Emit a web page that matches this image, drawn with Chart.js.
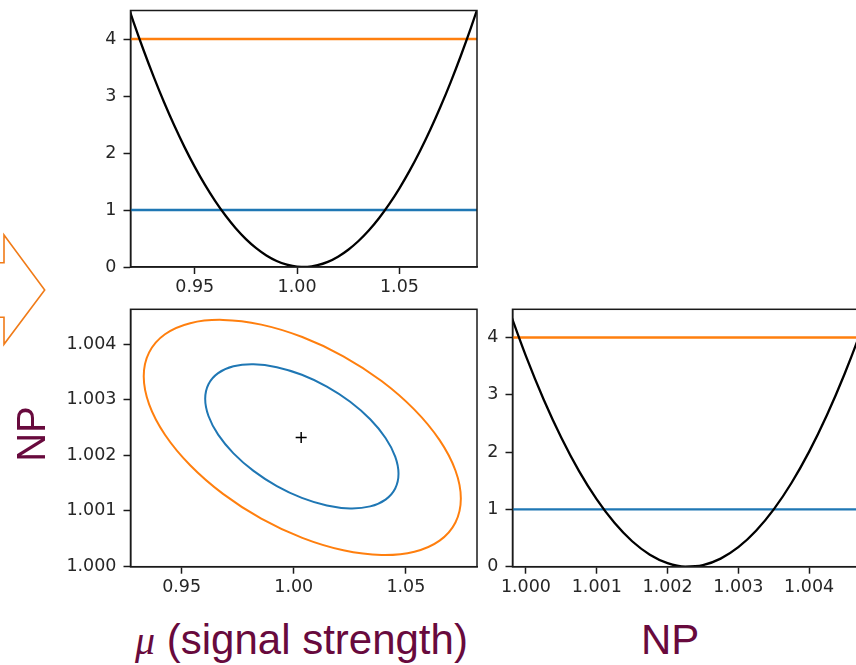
<!DOCTYPE html>
<html><head><meta charset="utf-8">
<script src="https://cdn.jsdelivr.net/npm/chart.js@4/dist/chart.umd.min.js"></script>
<style>
html,body{margin:0;padding:0;background:#fff;width:856px;height:665px;overflow:hidden;position:relative}
canvas{position:absolute}
.lbl{position:absolute;color:#680a3d;font-family:"Liberation Sans",Arial,sans-serif;font-size:42px;line-height:42px;white-space:nowrap}
.mu{font-family:"Liberation Serif","Times New Roman",serif;font-style:italic;font-size:40px}
</style></head><body>
<svg style="position:absolute;left:0;top:0" width="60" height="360">
  <polyline points="-3,262.7 4,262.7 4,235 44.7,290 4,344.3 4,317.3 -3,317.3" fill="none" stroke="#f07b18" stroke-width="1.6"/>
</svg>
<canvas id="cA" width="490" height="300" style="left:0;top:0"></canvas>
<canvas id="cB" width="490" height="310" style="left:0;top:290px"></canvas>
<canvas id="cC" width="390" height="310" style="left:480px;top:290px"></canvas>
<div class="lbl" style="left:135px;top:619px"><span class="mu">μ</span> (signal strength)</div>
<div class="lbl" style="left:641px;top:619px">NP</div>
<div class="lbl" style="left:1px;top:414px;width:60px;height:40px;font-size:40px;line-height:40px;text-align:center;transform:rotate(-90deg)">NP</div>
<script>
// ---- data ----
const muX = [0.915,0.92,0.925,0.93,0.935,0.94,0.945,0.95,0.955,0.96,0.965,0.97,0.975,0.98,0.985,0.99,0.995,1.0,1.005,1.01,1.015,1.02,1.025,1.03,1.035,1.04,1.045,1.05,1.055,1.06,1.065,1.07,1.075,1.08,1.085,1.09];
const muDchi2 = [4.84,4.306,3.803,3.331,2.89,2.481,2.103,1.756,1.44,1.156,0.903,0.681,0.49,0.331,0.203,0.106,0.04,0.006,0.003,0.031,0.09,0.181,0.303,0.456,0.64,0.856,1.103,1.381,1.69,2.031,2.403,2.806,3.24,3.706,4.203,4.731];
const npX = [0.99975,1.0,1.00025,1.0005,1.00075,1.001,1.00125,1.0015,1.00175,1.002,1.00225,1.0025,1.00275,1.003,1.00325,1.0035,1.00375,1.004,1.00425,1.0045,1.00475,1.005];
const npDchi2 = [4.516,3.674,2.918,2.25,1.668,1.174,0.766,0.444,0.21,0.063,0.002,0.028,0.141,0.34,0.627,1.0,1.46,2.007,2.641,3.361,4.168,5.063];
const level1 = 1;   // blue line
const level2 = 4;   // orange line
const muSpan = [0.90, 1.10];
const npSpan = [0.999, 1.006];
// closed contours (first and last points repeat so the loop closes smoothly)
const ell68Mu = [1.04523,1.0467,1.04523,1.04092,1.03408,1.02515,1.01475,1.0036,0.99245,0.98205,0.97312,0.96628,0.96197,0.9605,0.96197,0.96628,0.97312,0.98205,0.99245,1.0036,1.01475,1.02515,1.03408,1.04092,1.04523,1.0467,1.04523];
const ell68Np = [1.001400,1.001664,1.001974,1.002310,1.002647,1.002963,1.003237,1.003450,1.003587,1.003640,1.003603,1.003480,1.003280,1.003016,1.002706,1.002370,1.002033,1.001717,1.001443,1.001230,1.001093,1.001040,1.001077,1.001200,1.001400,1.001664,1.001974];
const ell95Mu = [1.07209,1.0745,1.07209,1.06503,1.05379,1.03915,1.0221,1.0038,0.9855,0.96845,0.95381,0.94257,0.93551,0.9331,0.93551,0.94257,0.95381,0.96845,0.9855,1.0038,1.0221,1.03915,1.05379,1.06503,1.07209,1.0745,1.07209];
const ell95Np = [1.000787,1.001218,1.001724,1.002271,1.002821,1.003337,1.003783,1.004130,1.004354,1.004439,1.004380,1.004180,1.003853,1.003422,1.002916,1.002369,1.001819,1.001303,1.000857,1.000510,1.000286,1.000201,1.000260,1.000460,1.000787,1.001218,1.001724];
const bestMu = [1.0033];
const bestNp = [1.00232];
const muTicks = [0.95, 1.00, 1.05];
const npTicks = [1.000, 1.001, 1.002, 1.003, 1.004];
const dchi2Ticks = [0, 1, 2, 3, 4];

const BLUE = '#1f77b4', ORANGE = '#ff7f0e', INK = '#1a1a1a';
Chart.defaults.font.family = 'DejaVu Sans';

function pts(xs, ys){ return xs.map((x,i)=>({x:x, y:ys[i]})); }
function axis(min, max, ticks, dec, isX, size){
  return {
    type:'linear', min:min, max:max,
    afterBuildTicks: function(s){ s.ticks = ticks.map(v=>({value:v})); },
    afterFit: function(s){
      if (isX) { s.height = size; } else { s.width = size; }
      s.paddingTop = 0; s.paddingBottom = 0; s.paddingLeft = 0; s.paddingRight = 0;
    },
    ticks: { callback: v => Number(v).toFixed(dec), color: '#262626', font:{size:17.5}, padding: isX ? 3 : 7,
             autoSkip:false, maxRotation:0, minRotation:0 },
    grid: { drawOnChartArea:false, drawTicks:true, tickLength:7, tickWidth:1.5, color:INK },
    border: { display:true, color:INK, width:1.5 }
  };
}
const frame = { id:'frame', afterDatasetsDraw(chart){
  const c = chart.ctx, a = chart.chartArea;
  c.save(); c.strokeStyle = INK; c.lineWidth = 1.5;
  c.strokeRect(a.left, a.top, a.right - a.left, a.bottom - a.top); c.restore();
}};
function lineDs(data, color, w, extra){
  return Object.assign({data:data, showLine:true, borderColor:color, borderWidth:w, pointRadius:0, clip:0, fill:false}, extra||{});
}
function loopDs(data, color){
  const last = data.length - 1;
  return lineDs(data, color, 2, {tension:0.4, segment:{
    borderColor: c => (c.p0DataIndex === 0 || c.p1DataIndex === last) ? 'rgba(0,0,0,0)' : color
  }});
}
function base(pad, sx, sy){
  return { responsive:false, animation:false, events:[],
    plugins:{legend:{display:false}, tooltip:{enabled:false}},
    layout:{padding:pad}, scales:{x:sx, y:sy} };
}

// Panel A: profile in mu
new Chart(document.getElementById('cA'), {
  type:'scatter',
  data:{datasets:[
    lineDs(pts(muX, muDchi2), '#000', 2.3, {cubicInterpolationMode:'monotone', tension:0.4}),
    lineDs(pts(muSpan, [level2, level2]), ORANGE, 2.5),
    lineDs(pts(muSpan, [level1, level1]), BLUE, 2.3)
  ]},
  options: base({left:0, right:13, top:10.5, bottom:0},
    axis(0.9186, 1.0879, muTicks, 2, true, 33),
    axis(0, 4.5, dchi2Ticks, 0, false, 130.5)),
  plugins:[frame]
});

// Panel B: 2D contours
new Chart(document.getElementById('cB'), {
  type:'scatter',
  data:{datasets:[
    {data: pts(bestMu, bestNp), pointStyle:'cross', pointRadius:5.5, borderColor:'#000', borderWidth:1.5, showLine:false},
    loopDs(pts(ell68Mu, ell68Np), BLUE),
    loopDs(pts(ell95Mu, ell95Np), ORANGE)
  ]},
  options: base({left:0, right:13, top:19.3, bottom:0},
    axis(0.9272, 1.0817, muTicks, 2, true, 33.3),
    axis(0.99999, 1.00463, npTicks, 3, false, 130.5)),
  plugins:[frame]
});

// Panel C: profile in NP
new Chart(document.getElementById('cC'), {
  type:'scatter',
  data:{datasets:[
    lineDs(pts(npX, npDchi2), '#000', 2.3, {cubicInterpolationMode:'monotone', tension:0.4}),
    lineDs(pts(npSpan, [level2, level2]), ORANGE, 2.5),
    lineDs(pts(npSpan, [level1, level1]), BLUE, 2.3)
  ]},
  options: base({left:0, right:12, top:19.3, bottom:0},
    axis(0.99981, 1.00469, npTicks, 3, true, 33.3),
    axis(0, 4.49, dchi2Ticks, 0, false, 32.5)),
  plugins:[frame]
});
</script>
</body></html>
